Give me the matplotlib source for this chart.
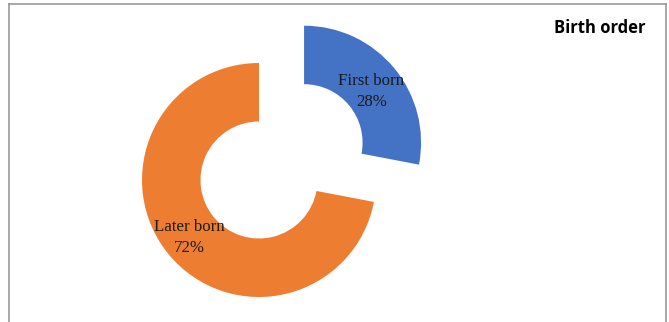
import numpy as np
import matplotlib.pyplot as plt

categories = ["First born", "Later born"]
shares = [28, 72]
colors = ["#4472C4", "#ED7D31"]
title = "Birth order"

W, H = 669, 322
fig = plt.figure(figsize=(W / 100, H / 100), dpi=100)
ax = fig.add_axes([0, 0, 1, 1])

# donut centre / radius in pixels
cx, cy, R = 259, H - 180, 117
ax.set_xlim(-cx / R, (W - cx) / R)
ax.set_ylim(-cy / R, (H - cy) / R)
ax.set_aspect("equal")
ax.axis("off")

labels = [f"{c}\n{s}%" for c, s in zip(categories, shares)]
wedges, texts = ax.pie(shares, colors=colors, startangle=90, counterclock=False,
                       explode=[0.5, 0], radius=1, labels=labels, labeldistance=0.77,
                       wedgeprops=dict(width=0.5, linewidth=0),
                       textprops=dict(family="Liberation Serif", fontsize=12.2, color="#1a1a1a",
                                      linespacing=1.4))
for t in texts:
    t.set_ha("center")
    t.set_va("center")
    t.set_multialignment("center")
# first-born label sits a little lower in the original
x0, y0 = texts[0].get_position()
texts[0].set_position((x0 - 2 / R, y0 - 6 / R))
ax.set_xlim(-cx / R, (W - cx) / R)
ax.set_ylim(-cy / R, (H - cy) / R)

fig.text(645 / W, 1 - 28 / H, title, ha="right", va="center",
         fontsize=12, fontweight="bold", family="Open Sans")

# frame (no bottom edge visible)
edge = "#999999"
fig.add_artist(plt.Line2D([9 / W, 9 / W], [0, 1 - 4 / H], color=edge, lw=1.2))
fig.add_artist(plt.Line2D([666 / W, 666 / W], [0, 1 - 4 / H], color=edge, lw=1.2))
fig.add_artist(plt.Line2D([9 / W, 666 / W], [1 - 4 / H, 1 - 4 / H], color=edge, lw=1.2))

fig.savefig("out.png", dpi=100, facecolor="white")
